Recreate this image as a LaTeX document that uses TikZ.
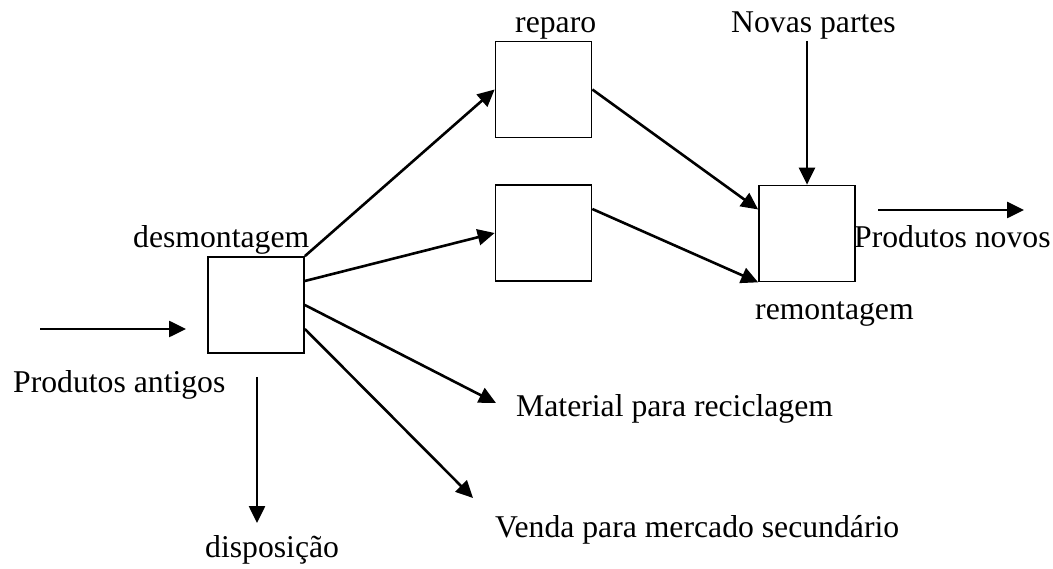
\documentclass[tikz,border=0pt]{standalone}
\usepackage{fontspec}
\setmainfont{Liberation Serif}
\usetikzlibrary{arrows.meta}
\begin{document}
\begin{tikzpicture}[x=1pt,y=-1pt,
  box/.style={draw,line width=1.7pt,minimum width=96pt,minimum height=96pt,inner sep=0pt},
  lbl/.style={anchor=base west,inner sep=0pt,font=\fontsize{31.7}{38}\selectfont},
  flow/.style={line width=2.6pt,-{Triangle[length=17pt,width=16pt]}}]
\useasboundingbox (0,0) rectangle (1053,569);
% boxes
\node[box] (d) at (256,305) {};
\node[box] (r) at (543.5,89.5) {};
\node[box] (m) at (543.5,233) {};
\node[box] (rm) at (807,233.5) {};
% labels
\node[lbl] (tdes) at (133,248) {desmontagem};
\node[lbl] (tant) at (13,393) {Produtos antigos};
\node[lbl] (trep) at (515,33) {reparo};
\node[lbl] (tnov) at (731,33) {Novas partes};
\node[lbl] (tpn) at (854,248) {Produtos novos};
\node[lbl] (trem) at (755,320) {remontagem};
\node[lbl] (tmat) at (516,417) {Material para reciclagem};
\node[lbl] (tven) at (495,537) {Venda para mercado secundário};
\node[lbl] (tdis) at (205,557) {disposição};
% free ends
\coordinate (ins) at (40,329);
\coordinate (ine) at (186,329);
\coordinate (outs) at (878,210);
\coordinate (oute) at (1024,210);
\coordinate (mate) at (496,403);
\coordinate (vene) at (473,498);
\coordinate (diss) at (257,377);
\coordinate (dise) at (257,523);
\coordinate (novs) at (807,41);
% connectors
\draw[flow] (ins) -- (ine);
\draw[flow] (d.north east) -- (r.west);
\draw[flow] ([yshift=24pt]d.east) -- (m.west);
\draw[flow] (d.east) -- (mate);
\draw[flow] ([yshift=-24pt]d.east) -- (vene);
\draw[flow] (diss) -- (dise);
\draw[flow] (r.east) -- ([yshift=24pt]rm.west);
\draw[flow] ([yshift=24pt]m.east) -- (rm.south west);
\draw[flow] (novs) -- (rm.north);
\draw[flow] (outs) -- (oute);
\end{tikzpicture}
\end{document}
